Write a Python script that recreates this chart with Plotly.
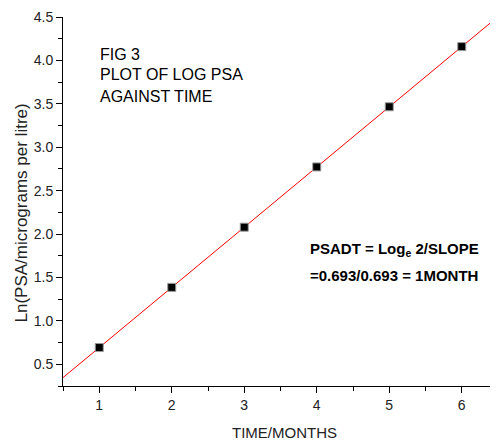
import plotly.graph_objects as go

# Data
time_months = [1, 2, 3, 4, 5, 6]
ln_psa = [0.693, 1.386, 2.079, 2.773, 3.466, 4.159]
slope = 0.693
fit_x = [0.5, 6.5]
fit_y = [slope * v for v in fit_x]

x_ticks = [1, 2, 3, 4, 5, 6]
y_ticks = [0.5, 1.0, 1.5, 2.0, 2.5, 3.0, 3.5, 4.0, 4.5]

FONT = "Liberation Sans, Arial, sans-serif"

fig = go.Figure()
fig.add_trace(go.Scatter(x=fit_x, y=fit_y, mode="lines",
                         line=dict(color="#ff0000", width=1), showlegend=False,
                         hoverinfo="skip"))
fig.add_trace(go.Scatter(x=time_months, y=ln_psa, mode="markers",
                         marker=dict(symbol="square", size=8, color="black",
                                     line=dict(color="#999999", width=1)),
                         showlegend=False))

# page body has an 8px margin: size the figure to fill the remaining window
OFF = 8
W, H = 498 - OFF, 440 - OFF
# target plot area in screenshot pixels: x 63..498, y 17..386
L, R, T, B = 63 - OFF, 0, 17 - OFF, 440 - 386
pw, ph = W - L - R, H - T - B

def px(xs):
    return (xs - OFF - L) / pw

def py(ys):
    return (H - B - (ys - OFF)) / ph

axis_common = dict(showline=True, linecolor="black", linewidth=1,
                   ticks="outside", tickcolor="black", ticklen=6, tickwidth=1,
                   showgrid=False, zeroline=False, mirror=False, automargin=False,
                   tickfont=dict(family=FONT, size=14, color="#222222"))

fig.update_xaxes(range=[0.5, 6.5], tickvals=x_ticks, ticktext=[str(v) for v in x_ticks],
                 minor=dict(ticks="outside", dtick=0.5, tick0=0.5, ticklen=4,
                            tickcolor="black", showgrid=False),
                 **axis_common)
fig.update_yaxes(range=[0.25, 4.5], tickvals=y_ticks, ticktext=[f"{v:.1f}" for v in y_ticks],
                 minor=dict(ticks="outside", dtick=0.25, tick0=0.25, ticklen=4,
                            tickcolor="black", showgrid=False),
                 **axis_common)

ann = []
# Axis titles
ann.append(dict(text="TIME/MONTHS", x=px(284.5), y=py(432), xref="paper", yref="paper",
                showarrow=False, xanchor="center", yanchor="middle",
                font=dict(family=FONT, size=15, color="#222222")))
ann.append(dict(text="Ln(PSA/micrograms per litre)", x=px(21), y=py(213.5),
                xref="paper", yref="paper", showarrow=False, textangle=-90,
                xanchor="center", yanchor="middle",
                font=dict(family=FONT, size=17, color="#222222")))
# Figure caption
for txt, yy in [("FIG 3", 54), ("PLOT OF LOG PSA", 75), ("AGAINST TIME", 96)]:
    ann.append(dict(text=txt, x=px(98), y=py(yy), xref="paper", yref="paper",
                    showarrow=False, xanchor="left", yanchor="middle",
                    font=dict(family=FONT, size=16, color="black")))
# Doubling-time note
for txt, yy in [("<b>PSADT = Log<sub>e</sub> 2/SLOPE</b>", 249),
                ("<b>=0.693/0.693 = 1MONTH</b>", 275)]:
    ann.append(dict(text=txt, x=px(308), y=py(yy), xref="paper", yref="paper",
                    showarrow=False, xanchor="left", yanchor="middle",
                    font=dict(family=FONT, size=15, color="black")))

fig.update_layout(width=W, height=H, margin=dict(l=L, r=R, t=T, b=B),
                  paper_bgcolor="white", plot_bgcolor="white",
                  annotations=ann, showlegend=False)

fig.write_html("out.html")
